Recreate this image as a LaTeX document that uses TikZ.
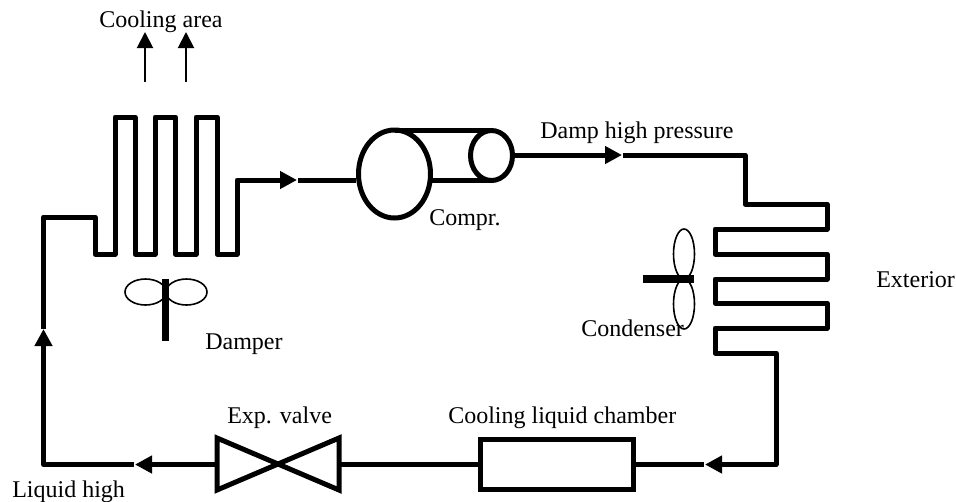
\documentclass[tikz,border=0pt]{standalone}
\usepackage{fontspec}
\setmainfont{Liberation Serif}
\usetikzlibrary{shapes.geometric,arrows.meta}
\tikzset{
  pipe/.style={line width=3.75pt,line join=round,black},
  flow/.style={pipe,-{Triangle[length=12.75pt,width=12.75pt]}},
  air/.style={line width=1.5pt,-{Triangle[length=12pt,width=12pt]}},
  vessel/.style={draw,ellipse,line width=3.75pt,inner sep=0pt},
  blade/.style={draw,ellipse,line width=1.2pt,inner sep=0pt},
  shaft/.style={line width=5.6pt},
  lab/.style={anchor=base west,inner sep=0pt,font=\fontsize{18}{20}\selectfont},
}
\begin{document}
\begin{tikzpicture}[x=0.75pt,y=-0.75pt]
\useasboundingbox (0,0) rectangle (956,501);
% components
\node[vessel,minimum width=54pt,minimum height=66pt] (big) at (394.5,174) {};
\node[vessel,minimum width=31.5pt,minimum height=37.5pt] (small) at (491.5,155.5) {};
\node[draw,line width=3.75pt,minimum width=115pt,minimum height=37pt,inner sep=0pt] (tank) at (557,464.5) {};
\coordinate (vl) at (217,464.5);
\coordinate (vr) at (339,464.5);
\draw[pipe,line join=miter] (vl) -- (217,438) -- (339,490) -- (vr) -- (339,438) -- (217,490) -- cycle;
% compressor body
\draw[pipe] (394.5,130.5) -- (491.5,130.5);
\draw[pipe] (429,180.5) -- (491.5,180.5);
% evaporator
\coordinate (a1) at (43.5,329);
\coordinate (t1) at (297,180);
\draw[pipe] (43.5,329) -- (43.5,217) -- (95,217) -- (95,254) -- (115,254) -- (115,117) -- (135,117) -- (135,254) -- (155,254) -- (155,117) -- (175.5,117) -- (175.5,254) -- (196,254) -- (196,117) -- (217,117) -- (217,254) -- (237,254) -- (237,180) -- (280,180);
\draw[flow] (237,180) -- (t1);
\draw[pipe] (298,180) -- (big.west |- t1);
% high side
\coordinate (t2) at (622,155);
\draw[flow] (small.east |- t2) -- (t2);
\draw[pipe] (623,155) -- (745,155) -- (745,204) -- (827,204) -- (827,229) -- (715,229) -- (715,254) -- (827,254) -- (827,279) -- (715,279) -- (715,303) -- (827,303) -- (827,328) -- (715,328) -- (715,353) -- (776,353) -- (776,464.5) -- (722,464.5);
\coordinate (t3) at (705,464.5);
\draw[flow] (776,464.5) -- (t3);
\draw[pipe] (704,464.5) -- (tank.east);
\draw[pipe] (tank.west) -- (vr);
\coordinate (t4) at (135,464.5);
\draw[flow] (vl) -- (t4);
\draw[pipe] (134,464.5) -- (43.5,464.5) -- (43.5,345);
\draw[flow] (43.5,464) -- (a1);
% air arrows
\coordinate (u1) at (145,32);
\coordinate (u2) at (186,32);
\draw[air] (145,82) -- (u1);
\draw[air] (186,82) -- (u2);
% fans
\node[blade,minimum width=30.75pt,minimum height=19.5pt] (b1) at (145.5,292) {};
\node[blade,minimum width=30.75pt,minimum height=19.5pt] (b2) at (186.5,292) {};
\draw[shaft] (165.5,279) -- (165.5,341);
\node[blade,minimum width=15.75pt,minimum height=37.5pt] (b3) at (684,254) {};
\node[blade,minimum width=15.75pt,minimum height=37.5pt] (b4) at (684,304) {};
\draw[shaft] (643,279) -- (694,279);
% labels
\node[lab] (l1) at (99,27) {Cooling area};
\node[lab] (l2) at (205,349) {Damper};
\node[lab] (l3) at (429,225) {Compr.};
\node[lab] (l4) at (540,138) {Damp high pressure};
\node[lab] (l5) at (876,287) {Exterior};
\node[lab] (l6) at (581,336) {Condenser};
\node[lab] (l7) at (227,423) {Exp. valve};
\node[lab] (l8) at (448,423) {Cooling liquid chamber};
\node[lab] (l9) at (12,497) {Liquid high};
\end{tikzpicture}
\end{document}
